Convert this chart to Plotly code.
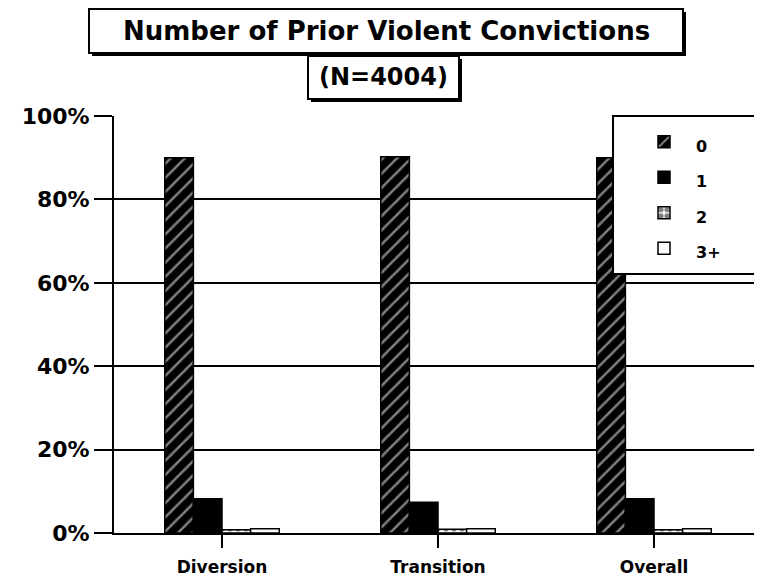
import plotly.graph_objects as go

categories = ['Diversion', 'Transition', 'Overall']
series_names = ['0', '1', '2', '3+']
values_0 = [90.0, 90.2, 90.0]
values_1 = [8.2, 7.4, 8.2]
values_2 = [0.8, 0.9, 0.8]
values_3 = [1.0, 1.0, 1.0]
y_ticks = [0, 20, 40, 60, 80, 100]
y_labels = ['0%', '20%', '40%', '60%', '80%', '100%']

# page renders the figure 8px in from the top-left corner
OFF = 8
W, H = 762, 579
L, R, T, B = 106, 8, 108, 54
PW, PH = W - L - R, H - T - B

FONT = 'DejaVu Sans'


def sx(x):
    # screen pixel -> paper fraction
    return (x - OFF - L) / PW


def sy(y):
    return (H - B - (y - OFF)) / PH


styles = [
    dict(color='black', pattern=dict(shape='/', fgcolor='white', bgcolor='black', size=10, solidity=0.25)),
    dict(color='black'),
    dict(color='white', pattern=dict(shape='.', fgcolor='black', bgcolor='white', size=8, solidity=0.6)),
    dict(color='white'),
]

fig = go.Figure()
for name, vals, st in zip(series_names, [values_0, values_1, values_2, values_3], styles):
    fig.add_trace(go.Bar(
        x=categories, y=vals,
        name='<span style="font-size:16px">' + name + '</span>',
        marker=dict(line=dict(color='black', width=1.5), **st),
    ))

# legend box (hides the bar behind it, as in the original)
fig.add_shape(type='rect', xref='paper', yref='paper',
              x0=sx(613), x1=sx(775), y0=sy(274), y1=sy(116),
              fillcolor='white', line=dict(color='black', width=2), layer='above')

# boxed titles with drop shadows
boxes = [
    ('Number of Prior Violent Convictions', 89, 683, 9, 53, 26),
    ('(N=4004)', 308, 459, 56, 99, 24),
]
for text, x0, x1, y0, y1, size in boxes:
    fig.add_shape(type='rect', xref='paper', yref='paper',
                  x0=sx(x0 + 3), x1=sx(x1 + 3), y0=sy(y1 + 3), y1=sy(y0 + 3),
                  fillcolor='black', line=dict(width=0), layer='above')
    fig.add_shape(type='rect', xref='paper', yref='paper',
                  x0=sx(x0), x1=sx(x1), y0=sy(y1), y1=sy(y0),
                  fillcolor='white', line=dict(color='black', width=2), layer='above')
    fig.add_annotation(text='<b>' + text + '</b>', xref='paper', yref='paper',
                       x=sx((x0 + x1) / 2), y=sy((y0 + y1) / 2),
                       showarrow=False, xanchor='center', yanchor='middle',
                       font=dict(family=FONT, size=size, color='black'))

fig.update_layout(
    width=W, height=H,
    margin=dict(l=L, r=R, t=T, b=B),
    barmode='group', bargap=0.47, bargroupgap=0,
    plot_bgcolor='white', paper_bgcolor='white',
    font=dict(family=FONT, color='black'),
    showlegend=True,
    legend=dict(x=sx(632), y=sy(119), xanchor='left', yanchor='top',
                bgcolor='rgba(0,0,0,0)', borderwidth=0,
                font=dict(size=25, family=FONT, weight='bold'),
                itemwidth=54),
    xaxis=dict(showline=True, linecolor='black', linewidth=2, ticks='outside',
               ticklen=13, tickwidth=2, tickcolor='black', ticklabelstandoff=5,
               tickfont=dict(size=17, family=FONT, weight='bold'),
               range=[-0.5, 2.5]),
    yaxis=dict(range=[0, 100], tickvals=y_ticks, ticktext=y_labels,
               showline=True, linecolor='black', linewidth=2,
               showgrid=True, gridcolor='black', gridwidth=2,
               ticks='outside', ticklen=18, tickwidth=2, tickcolor='black',
               tickfont=dict(size=22, family=FONT, weight='bold'),
               zeroline=False),
)

fig.write_html('out.html')
